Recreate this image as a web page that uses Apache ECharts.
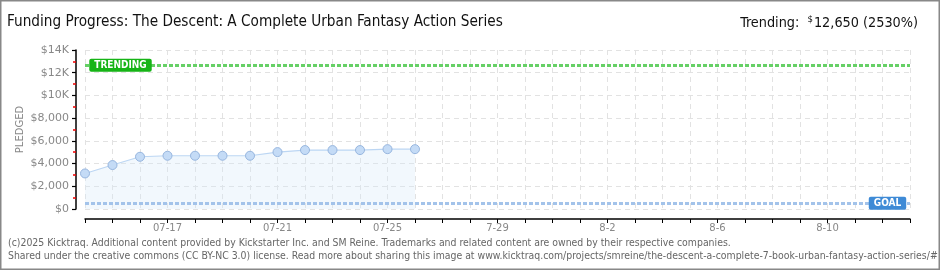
<!DOCTYPE html>
<html><head><meta charset="utf-8">
<script src="https://cdn.jsdelivr.net/npm/echarts@6/dist/echarts.min.js"></script>
<style>html,body{margin:0;padding:0;background:#fff}#c{width:940px;height:270px}</style>
</head><body><div id="c"></div>
<script>
const categories = ['07-14','07-15','07-16','07-17','07-18','07-19','07-20','07-21','07-22','07-23','07-24','07-25','07-26','07-27','07-28','7-29','7-30','7-31','8-1','8-2','8-3','8-4','8-5','8-6','8-7','8-8','8-9','8-10','8-11','8-12','8-13'];
const pledged = [3130, 3870, 4600, 4690, 4690, 4690, 4690, 5010, 5190, 5190, 5190, 5270, 5270];
const goal = 500;
const trending = 12650;
const yTicks = ['$0','$2,000','$4,000','$6,000','$8,000','$10K','$12K','$14K'];
const titleText = 'Funding Progress: The Descent: A Complete Urban Fantasy Action Series';
const footer1 = '(c)2025 Kicktraq. Additional content provided by Kickstarter Inc. and SM Reine. Trademarks and related content are owned by their respective companies.';
const footer2 = 'Shared under the creative commons (CC BY-NC 3.0) license. Read more about sharing this image at www.kicktraq.com/projects/smreine/the-descent-a-complete-7-book-urban-fantasy-action-series/#';

const chart = echarts.init(document.getElementById('c'), null, {renderer:'canvas'});
const FF = 'DejaVu Sans Condensed';
const FW = 'DejaVu Sans';
chart.setOption({
  animation:false,
  backgroundColor:'#fff',
  title:[
    {text:titleText,left:7,top:15,padding:0,textStyle:{fontFamily:FF,fontSize:15.2,fontWeight:'normal',color:'#111'}},
    {text:'{a|Trending:  }{s|$}{b|12,650 (2530%)}',right:22,top:15,padding:0,textStyle:{fontWeight:'normal',rich:{
      a:{fontFamily:FF,fontSize:14.3,fontWeight:'normal',color:'#111'},
      s:{fontFamily:FF,fontSize:9.5,fontWeight:'normal',color:'#111',verticalAlign:'top',padding:[0,1,6,0]},
      b:{fontFamily:FF,fontSize:14.3,fontWeight:'normal',color:'#111'}}}}
  ],
  graphic:[
    {type:'rect',shape:{x:0,y:0,width:940,height:270},style:{fill:'none',stroke:'#888',lineWidth:3},silent:true},
    {type:'text',left:8,top:238,style:{text:footer1,font:'10.4px "Liberation Sans Narrow", "DejaVu Sans Condensed"',fill:'#666'}},
    {type:'text',left:8,top:251,style:{text:footer2,font:'10.4px "Liberation Sans Narrow", "DejaVu Sans Condensed"',fill:'#666'}}
  ],
  grid:{left:85,right:30,top:50,bottom:61,containLabel:false},
  xAxis:{
    type:'category',data:categories,boundaryGap:false,offset:10,
    axisLine:{onZero:false,lineStyle:{color:'#000',width:1.5}},
    axisTick:{show:true,interval:0,length:4,lineStyle:{color:'#000'}},
    axisLabel:{interval:function(i){return i%4===3;},color:'#888',fontFamily:FW,fontSize:10,margin:4},
    splitLine:{show:true,interval:0,lineStyle:{color:'#e2e2e2',type:[5,4]}}
  },
  yAxis:{
    type:'value',min:0,max:14000,interval:2000,offset:9,
    name:'PLEDGED',nameLocation:'middle',nameGap:51,nameMoveOverlap:false,
    nameTextStyle:{color:'#888',fontFamily:FW,fontSize:10,padding:0},
    axisLine:{show:true,lineStyle:{color:'#000',width:1.5}},
    axisTick:{show:true,length:4,lineStyle:{color:'#000',width:1.2}},
    minorTick:{show:true,splitNumber:2,length:3,lineStyle:{color:'#e00',width:1.5}},
    axisLabel:{color:'#888',fontFamily:FW,fontSize:11,margin:7,formatter:function(v){return yTicks[Math.round(v/2000)];}},
    splitLine:{show:true,lineStyle:{color:'#e2e2e2',type:[5,4]}}
  },
  series:[{
    type:'line',data:pledged,symbol:'circle',symbolSize:9,
    lineStyle:{color:'#bcd6f3',width:1.2},
    itemStyle:{color:'#c4dbf6',borderColor:'#97b6df',borderWidth:1},
    areaStyle:{color:'rgba(215,232,250,0.45)'},
    markLine:{symbol:'none',silent:true,label:{show:false},data:[
      {yAxis:trending,lineStyle:{color:'#66d066',width:3,type:[4,2],opacity:1}},
      {yAxis:goal,lineStyle:{color:'#a3c3ea',width:3,type:[4,2],opacity:1}}
    ]},
    markPoint:{symbol:'rect',symbolSize:0,silent:true,data:[
      {coord:[0,trending],label:{show:true,formatter:'TRENDING',offset:[35.5,0],backgroundColor:'#16b416',color:'#fff',fontFamily:FF,fontWeight:'bold',fontSize:10,padding:[2,5,1,5],borderRadius:2}},
      {coord:[30,goal],label:{show:true,formatter:'GOAL',offset:[-22.5,0],backgroundColor:'#3e8ad6',color:'#fff',fontFamily:FF,fontWeight:'bold',fontSize:10,padding:[2,5,1,5],borderRadius:2}}
    ]}
  }]
});
</script></body></html>
